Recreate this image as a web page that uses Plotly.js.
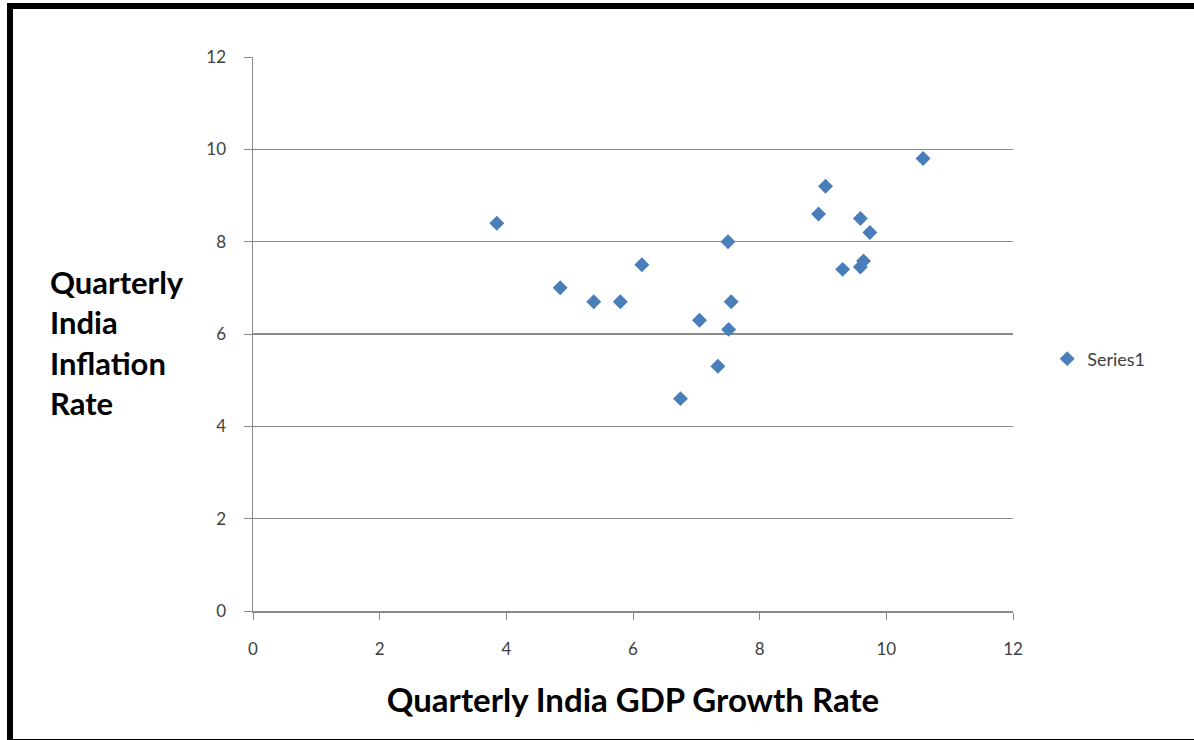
<!DOCTYPE html>
<html>
<head>
<meta charset="utf-8">
<script src="https://cdn.plot.ly/plotly-3.0.1.min.js"></script>
<style>
  html, body { margin: 0; padding: 0; background: #ffffff; }
  #frame { position: absolute; left: 7px; top: 3px; width: 1187px; height: 730px;
           border-left: 6px solid #000; border-top: 6px solid #000; border-bottom: 4px solid #000; box-sizing: content-box; }
  #chart { position: absolute; left: 0; top: 0; width: 1194px; height: 740px; }
</style>
</head>
<body>
<div id="frame"></div>
<div id="chart"></div>
<script>
// Quarterly India GDP growth rate (x) vs inflation rate (y)
const gdpGrowth = [3.85, 4.85, 5.38, 5.80, 6.14, 6.75, 7.05, 7.34, 7.51, 7.55, 7.50, 8.93, 9.04, 9.31, 9.59, 9.64, 9.59, 9.74, 10.58];
const inflation = [8.4, 7.0, 6.7, 6.7, 7.5, 4.6, 6.3, 5.3, 6.1, 6.7, 8.0, 8.6, 9.2, 7.4, 7.45, 7.58, 8.5, 8.2, 9.8];
const seriesName = 'Series1';
const xTitle = 'Quarterly India GDP Growth Rate';
const yTitleLines = ['Quarterly', 'India', 'Inflation', 'Rate'];
const tickVals = [0, 2, 4, 6, 8, 10, 12];

const fontFam = 'Lato, "Open Sans", sans-serif';

const trace = {
  type: 'scatter',
  mode: 'markers',
  x: gdpGrowth,
  y: inflation,
  name: seriesName,
  marker: { symbol: 'diamond', size: 11.5, color: '#4a7ebb', line: { width: 0 } },
  showlegend: true
};

const layout = {
  width: 1194,
  height: 740,
  margin: { l: 253, r: 181, t: 57, b: 129 },
  paper_bgcolor: 'rgba(0,0,0,0)',
  plot_bgcolor: 'rgba(0,0,0,0)',
  font: { family: fontFam, size: 17, color: '#404040' },
  showlegend: true,
  legend: {
    x: 1.045, y: 0.455, xanchor: 'left', yanchor: 'middle',
    bgcolor: 'rgba(0,0,0,0)',
    font: { family: fontFam, size: 18, color: '#404040' },
    itemwidth: 30
  },
  xaxis: {
    range: [0, 12],
    tickvals: tickVals,
    ticktext: tickVals.map(String),
    showgrid: false,
    zeroline: false,
    showline: true,
    linecolor: '#8a8a8a',
    linewidth: 1.5,
    ticks: 'outside',
    ticklen: 7,
    tickcolor: '#8a8a8a',
    ticklabelstandoff: 15,
    tickfont: { family: fontFam, size: 17, color: '#404040' },
    title: { text: xTitle, font: { family: fontFam, size: 33, color: '#000000', weight: 'bold' }, standoff: 31 }
  },
  yaxis: {
    range: [0, 12],
    tickvals: tickVals,
    ticktext: tickVals.map(String),
    showgrid: true,
    gridcolor: '#8a8a8a',
    gridwidth: 1.5,
    zeroline: false,
    showline: true,
    linecolor: '#8a8a8a',
    linewidth: 1.5,
    ticks: 'outside',
    ticklen: 8,
    tickcolor: '#8a8a8a',
    ticklabelstandoff: 14,
    tickfont: { family: fontFam, size: 17, color: '#404040' }
  },
  annotations: [{
    xref: 'paper', yref: 'paper',
    x: -0.27, y: 0.484,
    xanchor: 'left', yanchor: 'middle',
    align: 'left',
    showarrow: false,
    text: yTitleLines.join('<br>'),
    font: { family: fontFam, size: 31, color: '#000000', weight: 'bold' }
  }]
};

Plotly.newPlot('chart', [trace], layout, { displayModeBar: false, staticPlot: true });
</script>
</body>
</html>
